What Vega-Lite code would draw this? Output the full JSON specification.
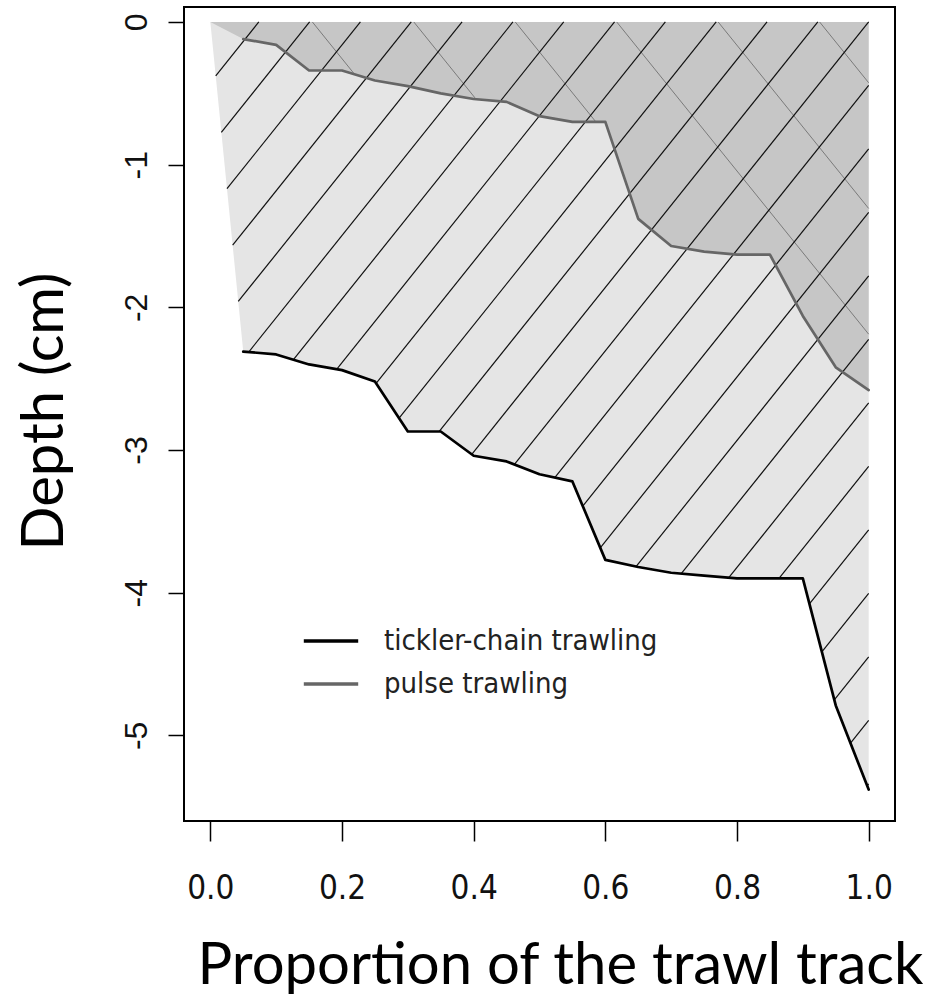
{
  "$schema": "https://vega.github.io/schema/vega-lite/v6.json",
  "width": 711,
  "height": 814,
  "autosize": {"type": "none"},
  "padding": {"left": 184, "top": 7, "right": 40, "bottom": 176},
  "background": "white",
  "config": {"view": {"stroke": "black", "strokeWidth": 2}},
  "datasets": {
    "curves": [
      {"series": "tickler-chain trawling", "x": 0, "y": 0},
      {"series": "tickler-chain trawling", "x": 0.05, "y": -2.31},
      {"series": "tickler-chain trawling", "x": 0.10, "y": -2.33},
      {"series": "tickler-chain trawling", "x": 0.15, "y": -2.40},
      {"series": "tickler-chain trawling", "x": 0.20, "y": -2.44},
      {"series": "tickler-chain trawling", "x": 0.25, "y": -2.52},
      {"series": "tickler-chain trawling", "x": 0.30, "y": -2.87},
      {"series": "tickler-chain trawling", "x": 0.35, "y": -2.87},
      {"series": "tickler-chain trawling", "x": 0.40, "y": -3.04},
      {"series": "tickler-chain trawling", "x": 0.45, "y": -3.08},
      {"series": "tickler-chain trawling", "x": 0.50, "y": -3.17},
      {"series": "tickler-chain trawling", "x": 0.55, "y": -3.22},
      {"series": "tickler-chain trawling", "x": 0.60, "y": -3.77},
      {"series": "tickler-chain trawling", "x": 0.65, "y": -3.82},
      {"series": "tickler-chain trawling", "x": 0.70, "y": -3.86},
      {"series": "tickler-chain trawling", "x": 0.75, "y": -3.88},
      {"series": "tickler-chain trawling", "x": 0.80, "y": -3.90},
      {"series": "tickler-chain trawling", "x": 0.85, "y": -3.90},
      {"series": "tickler-chain trawling", "x": 0.90, "y": -3.90},
      {"series": "tickler-chain trawling", "x": 0.95, "y": -4.79},
      {"series": "tickler-chain trawling", "x": 1.00, "y": -5.38},
      {"series": "pulse trawling", "x": 0, "y": 0},
      {"series": "pulse trawling", "x": 0.05, "y": -0.12},
      {"series": "pulse trawling", "x": 0.10, "y": -0.16},
      {"series": "pulse trawling", "x": 0.15, "y": -0.34},
      {"series": "pulse trawling", "x": 0.20, "y": -0.34},
      {"series": "pulse trawling", "x": 0.25, "y": -0.41},
      {"series": "pulse trawling", "x": 0.30, "y": -0.45},
      {"series": "pulse trawling", "x": 0.35, "y": -0.50},
      {"series": "pulse trawling", "x": 0.40, "y": -0.54},
      {"series": "pulse trawling", "x": 0.45, "y": -0.56},
      {"series": "pulse trawling", "x": 0.50, "y": -0.66},
      {"series": "pulse trawling", "x": 0.55, "y": -0.70},
      {"series": "pulse trawling", "x": 0.60, "y": -0.70},
      {"series": "pulse trawling", "x": 0.65, "y": -1.38},
      {"series": "pulse trawling", "x": 0.70, "y": -1.57},
      {"series": "pulse trawling", "x": 0.75, "y": -1.61},
      {"series": "pulse trawling", "x": 0.80, "y": -1.63},
      {"series": "pulse trawling", "x": 0.85, "y": -1.63},
      {"series": "pulse trawling", "x": 0.90, "y": -2.06},
      {"series": "pulse trawling", "x": 0.95, "y": -2.42},
      {"series": "pulse trawling", "x": 1.00, "y": -2.58}
    ],
    "hatchBlack": [
      {"x": 0.0082, "y": -0.377, "x2": 0.0736, "y2": 0},
      {"x": 0.0167, "y": -0.773, "x2": 0.1508, "y2": 0},
      {"x": 0.0253, "y": -1.168, "x2": 0.2280, "y2": 0},
      {"x": 0.0339, "y": -1.564, "x2": 0.3052, "y2": 0},
      {"x": 0.0424, "y": -1.959, "x2": 0.3824, "y2": 0},
      {"x": 0.0583, "y": -2.313, "x2": 0.4596, "y2": 0},
      {"x": 0.1262, "y": -2.367, "x2": 0.5368, "y2": 0},
      {"x": 0.1918, "y": -2.434, "x2": 0.6140, "y2": 0},
      {"x": 0.2518, "y": -2.533, "x2": 0.6912, "y2": 0},
      {"x": 0.2867, "y": -2.777, "x2": 0.7684, "y2": 0},
      {"x": 0.3477, "y": -2.870, "x2": 0.8456, "y2": 0},
      {"x": 0.3971, "y": -3.030, "x2": 0.9228, "y2": 0},
      {"x": 0.4619, "y": -3.101, "x2": 1.0, "y2": 0},
      {"x": 0.5232, "y": -3.193, "x2": 1.0, "y2": -0.445},
      {"x": 0.5657, "y": -3.393, "x2": 1.0, "y2": -0.890},
      {"x": 0.5923, "y": -3.685, "x2": 1.0, "y2": -1.335},
      {"x": 0.6466, "y": -3.817, "x2": 1.0, "y2": -1.780},
      {"x": 0.7153, "y": -3.866, "x2": 1.0, "y2": -2.225},
      {"x": 0.7875, "y": -3.895, "x2": 1.0, "y2": -2.670},
      {"x": 0.8638, "y": -3.900, "x2": 1.0, "y2": -3.115},
      {"x": 0.9100, "y": -4.079, "x2": 1.0, "y2": -3.560},
      {"x": 0.9289, "y": -4.415, "x2": 1.0, "y2": -4.005},
      {"x": 0.9478, "y": -4.751, "x2": 1.0, "y2": -4.450},
      {"x": 0.9724, "y": -5.054, "x2": 1.0, "y2": -4.895},
      {"x": 0.9977, "y": -5.353, "x2": 1.0, "y2": -5.340}
    ],
    "hatchGrey": [
      {"x": 0.1550, "y": 0, "x2": 0.2192, "y2": -0.367},
      {"x": 0.3091, "y": 0, "x2": 0.4038, "y2": -0.542},
      {"x": 0.4632, "y": 0, "x2": 0.5856, "y2": -0.700},
      {"x": 0.6173, "y": 0, "x2": 1.0, "y2": -2.188},
      {"x": 0.7714, "y": 0, "x2": 1.0, "y2": -1.307},
      {"x": 0.9255, "y": 0, "x2": 1.0, "y2": -0.426}
    ]
  },
  "layer": [
    {
      "data": {"name": "curves"},
      "transform": [{"filter": "datum.series == 'tickler-chain trawling'"}],
      "mark": {"type": "area", "color": "#e5e5e5", "interpolate": "linear"},
      "encoding": {
        "x": {
          "field": "x", "type": "quantitative", "title": "Proportion of the trawl track",
          "scale": {"domain": [-0.04, 1.04], "nice": false, "zero": false},
          "axis": {
            "title": "Proportion of the trawl track",
            "values": [0, 0.2, 0.4, 0.6, 0.8, 1.0],
            "format": ".1f",
            "grid": false, "domain": false,
            "tickColor": "black", "tickWidth": 1.5, "tickSize": 20,
            "labelFont": "Liberation Sans Narrow, DejaVu Sans Condensed, Liberation Sans, sans-serif", "labelFontSize": 33, "labelColor": "#111",
            "labelBaseline": "middle", "labelPadding": 47, "labelFlush": false,
            "titleFont": "Lato", "titleFontSize": 58, "titleFontWeight": "normal", "titleColor": "black",
            "titleX": 376, "titleY": 162, "titleBaseline": "alphabetic", "titleAlign": "center"
          }
        },
        "y": {
          "field": "y", "type": "quantitative", "title": "Depth (cm)",
          "scale": {"domain": [-5.6, 0.105], "nice": false, "zero": false},
          "axis": {
            "title": "Depth (cm)",
            "values": [0, -1, -2, -3, -4, -5],
            "labelExpr": "'' + datum.value",
            "grid": false, "domain": false,
            "tickColor": "black", "tickWidth": 1.5, "tickSize": 16,
            "labelFont": "Liberation Sans", "labelFontSize": 32, "labelColor": "#111",
            "labelAngle": -90, "labelAlign": "center", "labelBaseline": "middle", "labelPadding": 32, "labelFlush": false,
            "titleFont": "Lato", "titleFontSize": 58, "titleFontWeight": "normal", "titleColor": "black",
            "titleAngle": -90, "titleX": -139, "titleY": 404, "titleBaseline": "middle", "titleAlign": "center"
          }
        },
        "y2": {"datum": 0}
      }
    },
    {
      "data": {"name": "curves"},
      "transform": [{"filter": "datum.series == 'pulse trawling'"}],
      "mark": {"type": "area", "color": "#c6c6c6", "interpolate": "linear"},
      "encoding": {
        "x": {"field": "x", "type": "quantitative", "title": "Proportion of the trawl track"},
        "y": {"field": "y", "type": "quantitative", "title": "Depth (cm)"},
        "y2": {"datum": 0}
      }
    },
    {
      "data": {"name": "hatchGrey"},
      "mark": {"type": "rule", "color": "#7a7a7a", "strokeWidth": 1},
      "encoding": {
        "x": {"field": "x", "type": "quantitative", "title": "Proportion of the trawl track"},
        "y": {"field": "y", "type": "quantitative", "title": "Depth (cm)"},
        "x2": {"field": "x2"},
        "y2": {"field": "y2"}
      }
    },
    {
      "data": {"name": "hatchBlack"},
      "mark": {"type": "rule", "color": "#111111", "strokeWidth": 1.2},
      "encoding": {
        "x": {"field": "x", "type": "quantitative", "title": "Proportion of the trawl track"},
        "y": {"field": "y", "type": "quantitative", "title": "Depth (cm)"},
        "x2": {"field": "x2"},
        "y2": {"field": "y2"}
      }
    },
    {
      "data": {"name": "curves"},
      "transform": [{"filter": "datum.x > 0"}],
      "mark": {"type": "line", "interpolate": "linear", "strokeJoin": "round", "strokeCap": "round", "strokeWidth": 2.7},
      "encoding": {
        "x": {"field": "x", "type": "quantitative", "title": "Proportion of the trawl track"},
        "y": {"field": "y", "type": "quantitative", "title": "Depth (cm)"},
        "color": {
          "field": "series", "type": "nominal",
          "scale": {"domain": ["tickler-chain trawling", "pulse trawling"], "range": ["#000000", "#666666"]},
          "legend": {
            "orient": "none", "legendX": 128, "legendY": 615, "title": null,
            "symbolType": "M-1.6,0H1.6", "symbolSize": 1156, "symbolStrokeWidth": 3.5,
            "labelFont": "Liberation Sans Narrow, DejaVu Sans Condensed, Liberation Sans, sans-serif", "labelFontSize": 29, "labelColor": "#222",
            "labelLimit": 500, "labelOffset": 34, "rowPadding": 9, "padding": 0
          }
        },
        "order": {"field": "x", "type": "quantitative"}
      }
    },
    {
      "mark": {"type": "rule", "color": "black", "strokeWidth": 2},
      "encoding": {"y": {"datum": 0, "type": "quantitative"}}
    }
  ]
}
